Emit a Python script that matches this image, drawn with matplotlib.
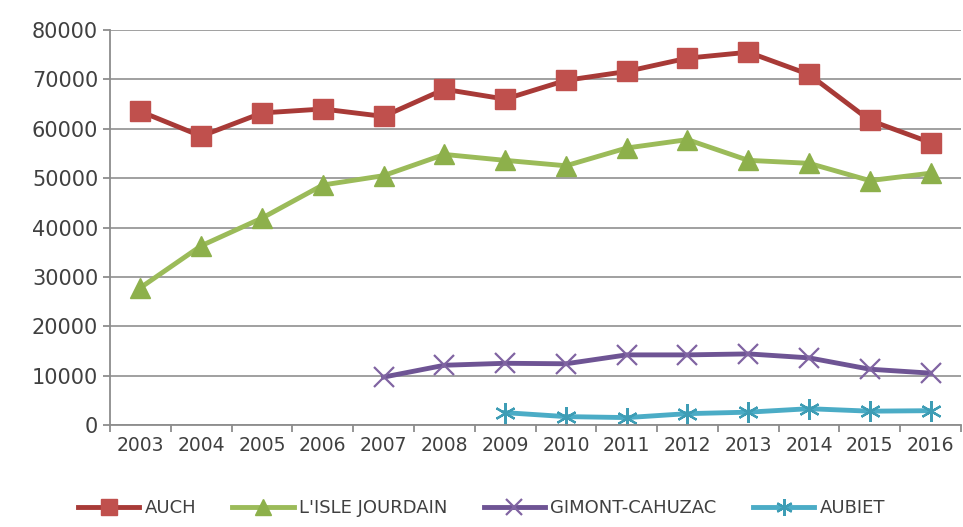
import matplotlib.pyplot as plt
import numpy as np

# Yearly figures per site (None = no data that year)
years = ['2003', '2004', '2005', '2006', '2007', '2008', '2009',
         '2010', '2011', '2012', '2013', '2014', '2015', '2016']

auch = [63500, 58500, 63200, 64000, 62500, 68000, 66000,
        69800, 71600, 74300, 75500, 71000, 61700, 57200]
isle_jourdain = [27800, 36300, 41900, 48600, 50500, 54800, 53600,
                 52500, 56100, 57800, 53600, 53000, 49500, 51000]
gimont = [None, None, None, None, 9700, 12100, 12500,
          12400, 14200, 14200, 14400, 13600, 11300, 10500]
aubiet = [None, None, None, None, None, None, 2500,
          1700, 1500, 2300, 2600, 3300, 2800, 2900]

series_names = ['AUCH', "L'ISLE JOURDAIN", 'GIMONT-CAHUZAC', 'AUBIET']


def to_arr(vals):
    return np.array([np.nan if v is None else v for v in vals], dtype=float)


fig = plt.figure(figsize=(9.63, 5.27), dpi=100)
ax = fig.add_axes([110 / 963, 1 - 425 / 527, 851 / 963, 395 / 527])

x = np.arange(len(years))

ax.plot(x, to_arr(auch), color='#A83A37', lw=3.5, marker='s', ms=14,
        mfc='#C0504D', mec='#C0504D', label=series_names[0])
ax.plot(x, to_arr(isle_jourdain), color='#9BBB59', lw=3.5, marker='^', ms=14,
        mfc='#8DB04B', mec='#8DB04B', label=series_names[1])
ax.plot(x, to_arr(gimont), color='#6E5494', lw=3.5, marker='x', ms=14,
        mew=1.6, mec='#8064A2', label=series_names[2])
ax.plot(x, to_arr(aubiet), color='#4BACC6', lw=3.5, marker=(6, 2, 0), ms=15,
        mew=1.6, mec='#3E9DB5', label=series_names[3])

ax.set_xlim(-0.5, len(years) - 0.5)
ax.set_ylim(0, 80000)
ax.set_yticks(np.arange(0, 80001, 10000))
ax.set_xticks(x)
ax.set_xticklabels(years)
ax.set_xticks(np.arange(-0.5, len(years), 1), minor=True)

ax.grid(axis='y', color='#999999', lw=1.3)
ax.set_axisbelow(True)
for side in ['top', 'right']:
    ax.spines[side].set_visible(False)
ax.spines['left'].set_color('#8C8C8C')
ax.spines['bottom'].set_color('#8C8C8C')
ax.spines['left'].set_linewidth(1.3)
ax.spines['bottom'].set_linewidth(1.3)

ax.tick_params(axis='y', labelsize=15, colors='#8C8C8C', labelcolor='#404040',
               length=5, width=1.3)
ax.tick_params(axis='x', which='major', length=0, labelsize=13.5,
               labelcolor='#404040', pad=8)
ax.tick_params(axis='x', which='minor', length=5, width=1.3, colors='#8C8C8C')

leg = fig.legend(loc='center', bbox_to_anchor=(0.5, 1 - 508 / 527), ncol=4,
                 frameon=False, fontsize=13, handlelength=3.4, markerscale=0.8,
                 columnspacing=2.0, handletextpad=0.3)
for t in leg.get_texts():
    t.set_color('#404040')

fig.savefig('out.png', dpi=100)
